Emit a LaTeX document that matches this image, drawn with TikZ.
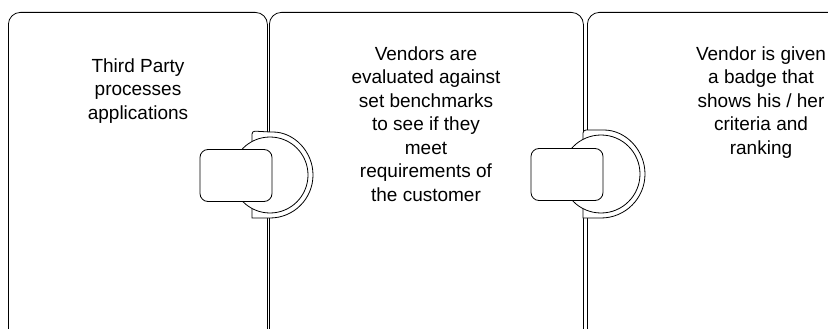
\documentclass[tikz,border=0pt]{standalone}
\usepackage{fontspec}
\setmainfont{Liberation Sans}
\usepackage{tikz}
\usetikzlibrary{shapes,arrows}
\tikzstyle{panel} = [rectangle, draw, line width=0.8pt, rounded corners=12pt, fill=white,
    inner sep=0pt, minimum height=340pt, anchor=north west]
\tikzstyle{caption} = [align=center, anchor=north, inner sep=0pt, font=\fontsize{19}{23.5}\selectfont]
\tikzstyle{tab} = [draw, line width=0.8pt, fill=white]
\tikzstyle{joint} = [rectangle, draw, line width=0.8pt, fill=white, rounded corners=8pt,
    minimum width=72pt, minimum height=52pt, inner sep=0pt]

\begin{document}
\begin{tikzpicture}[x=1pt, y=-1pt]
    \clip (0,0) rectangle (828,329);
    % Place nodes
    \node [panel, minimum width=259pt] (party) at (8,12) {};
    \node [panel, minimum width=314pt] (evaluate) at (269,12) {};
    \node [panel, minimum width=352pt] (badge) at (587,12) {};
    \node [caption] (partytext) at (138,58.5) {Third Party\\processes\\applications};
    \node [caption] (evaluatetext) at (426,46.5) {Vendors are\\evaluated against\\set benchmarks\\to see if they\\meet\\requirements of\\the customer};
    \node [caption] (badgetext) at (761,46.5) {Vendor is given\\a badge that\\shows his / her\\criteria and\\ranking};

    % Draw joints
    \coordinate (hub1) at (270,175);
    \coordinate (hub2) at (601,174);
    \draw [tab] (252,218) [rounded corners=3pt] -- (252,131) -- (270,132) [sharp corners] arc (90:-90:43pt) -- cycle;
    \draw [tab] (hub1) circle (38pt);
    \draw [tab] (583,218) [rounded corners=3pt] -- (583,130) -- (601,130) [sharp corners] arc (90:-90:44pt) -- cycle;
    \draw [tab] (hub2) circle (39pt);
    \node [joint] (joint1) at (236,175.5) {};
    \node [joint] (joint2) at (567,174.5) {};
\end{tikzpicture}
\end{document}
